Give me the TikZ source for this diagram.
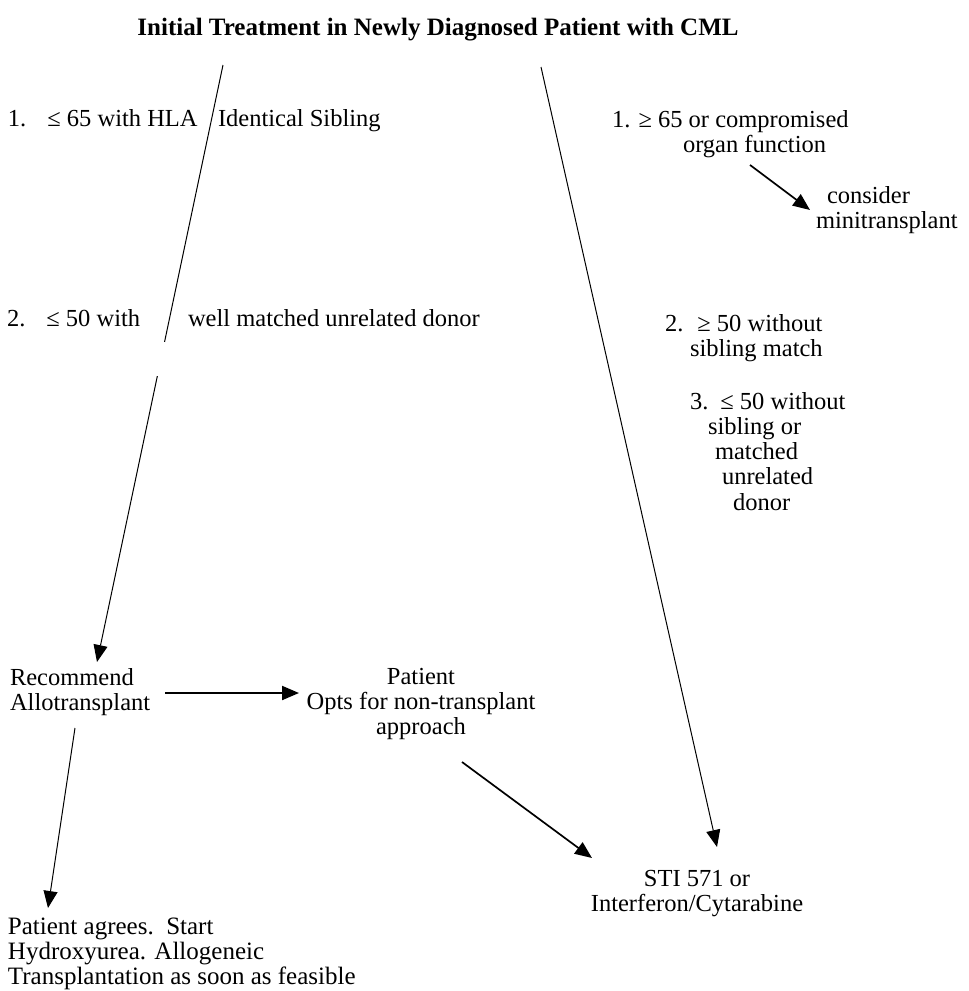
\documentclass[tikz,border=0pt]{standalone}
\usepackage{fontspec}
\setmainfont{Liberation Serif}
\usetikzlibrary{arrows.meta}
\begin{document}
\begin{tikzpicture}[x=1pt,y=-1pt,
  txt/.style={inner sep=0pt, outer sep=0pt, font=\fontsize{24.5}{25.3}\selectfont},
  bigtxt/.style={inner sep=0pt, outer sep=0pt, font=\fontsize{25}{25.2}\selectfont},
  ttl/.style={inner sep=0pt, font=\fontsize{25}{27}\selectfont\bfseries},
  longarr/.style={-{Triangle[length=17pt,width=14pt]}, line width=1pt},
  shortarr/.style={-{Triangle[length=17pt,width=14pt]}, line width=1.7pt},
  boldarr/.style={-{Triangle[length=17pt,width=14pt]}, line width=2.1pt}]
\useasboundingbox (0,0) rectangle (969,991);
\fill[white] (0,0) rectangle (969,991);

% title
\node[ttl, anchor=base] (title) at (438,35) {Initial Treatment in Newly Diagnosed Patient with CML};

% left criteria
\node[txt, anchor=base west] (c1a) at (8,126) {1.\hspace{21pt}≤ 65 with HLA};
\node[txt, anchor=base west] (c1b) at (218,126) {Identical Sibling};
\node[txt, anchor=base west] (c2a) at (7,326) {2.\hspace{21pt}≤ 50 with};
\node[txt, anchor=base west] (c2b) at (188,326) {well matched unrelated donor};

% right criteria
\node[txt, anchor=north west, align=left] (r1) at (612,110)
  {1. ≥ 65 or compromised\\\hspace*{71pt}organ function};
\node[txt, anchor=north west, align=left] (mini) at (816,186)
  {\hspace*{11pt}consider\\minitransplant};
\node[txt, anchor=north west, align=left] (r2) at (665,314)
  {2.\hspace{14pt}≥ 50 without\\\hspace*{25pt}sibling match};
\node[txt, anchor=north west, align=left] (r3) at (690,392)
  {3.\hspace{12pt}≤ 50 without\\\hspace*{18pt}sibling or\\\hspace*{25pt}matched\\\hspace*{32pt}unrelated\\\hspace*{43pt}donor};

% lower nodes
\node[txt, anchor=north west, align=left] (rec) at (10,668)
  {Recommend\\Allotransplant};
\node[txt, anchor=north, align=center] (pat) at (421,668)
  {Patient\\Opts for non-transplant\\approach};
\node[txt, anchor=north, align=center] (sti) at (697,870)
  {STI 571 or\\Interferon/Cytarabine};
\node[bigtxt, anchor=north west, align=left] (agree) at (8,918)
  {Patient agrees.\ \ Start\\Hydroxyurea. Allogeneic\\Transplantation as soon as feasible};

% connector end points
\coordinate (t1) at (223,65);
\coordinate (t2) at (541,67);
\coordinate (recin) at (97,662);
\coordinate (stiin) at (717,847);
\coordinate (r1out) at (750,165);
\coordinate (miniin) at (810,210);
\coordinate (recout) at (165,693);
\coordinate (patin) at (299,693);
\coordinate (recdown) at (75,728);
\coordinate (agreein) at (48,908);
\coordinate (patout) at (462,762);
\coordinate (stiin2) at (592,858);

\draw[longarr, dash pattern=on 283pt off 35pt on 600pt off 1pt] (t1) -- (recin);
\draw[longarr] (t2) -- (stiin);
\draw[shortarr] (r1out) -- (miniin);
\draw[boldarr] (recout) -- (patin);
\draw[longarr] (recdown) -- (agreein);
\draw[shortarr] (patout) -- (stiin2);
\end{tikzpicture}
\end{document}
